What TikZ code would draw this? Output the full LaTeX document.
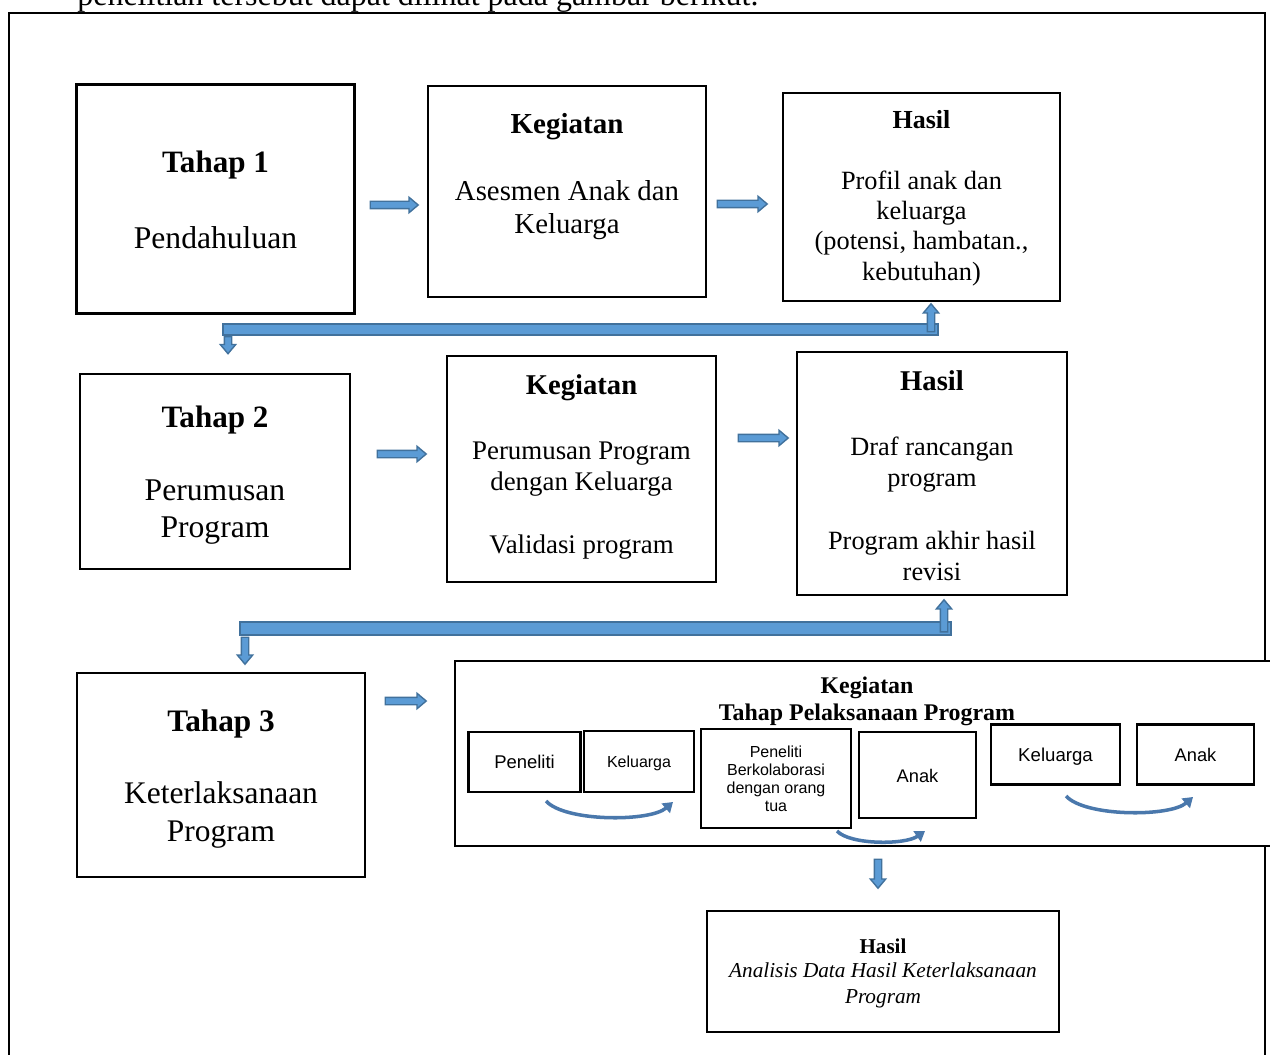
\documentclass[tikz,border=0pt]{standalone}
\usepackage{fontspec}
\setmainfont{Liberation Serif}
\setsansfont{Liberation Sans}
\usetikzlibrary{shapes.arrows,arrows.meta}
\newdimen\px \px=0.02cm
\definecolor{arrfill}{HTML}{5B9BD5}
\definecolor{arrline}{HTML}{41719C}
\definecolor{curvc}{HTML}{4A78AC}
\newcommand{\fs}[2]{\fontsize{#1}{#2}\selectfont}
\begin{document}
\begin{tikzpicture}[x=0.02cm,y=-0.02cm,
  box/.style={draw, line width=1.3pt, rectangle, inner sep=0pt, outer sep=0pt},
  sbox/.style={draw, line width=1.2pt, rectangle, inner sep=0pt, outer sep=0pt},
  txt/.style={inner sep=0pt, outer sep=0pt, align=center, anchor=base},
  blkarrow/.style={single arrow, fill=arrfill, draw=arrline, line width=0.8pt,
    inner sep=3\px, single arrow head extend=4\px, single arrow tip angle=80,
    minimum height=#1, outer sep=0pt},
  barst/.style={fill=arrfill, draw=arrline, line width=0.8pt, rectangle, inner sep=0pt, outer sep=0pt},
  curv/.style={draw=curvc, line width=2pt, -{Triangle[length=5.5pt,width=7pt]}},
  frame/.style={line width=1.4pt}]
\useasboundingbox (0,0) rectangle (1270,1054);

% cut-off line of text above the frame
\node[inner sep=0pt, anchor=base west, font=\fs{18.2}{21}] (toptext) at (77,6) {penelitian tersebut dapat dilihat pada gambar berikut.};

% outer frame
\draw[frame] (9,1080) -- (9,13) -- (1265,13) -- (1265,1080);

% ---------- row 1 ----------
\node[box, minimum width=278\px, minimum height=229\px] (t1) at (215.5,199) {};
\node[txt, font=\fs{17.7}{20}\bfseries] (t1a) at (215.5,173) {Tahap 1};
\node[txt, font=\fs{18}{21}] (t1b) at (215.5,248) {Pendahuluan};

\node[box, minimum width=278\px, minimum height=211\px] (k1) at (567,191.5) {};
\node[txt, font=\fs{16.5}{19}\bfseries] (k1a) at (567,134) {Kegiatan};
\node[txt, font=\fs{16.4}{19.3}] (k1b) at (567,234) {Asesmen Anak dan\\Keluarga};

\node[box, minimum width=277\px, minimum height=208\px] (h1) at (921.5,197) {};
\node[txt, font=\fs{14.8}{17}\bfseries] (h1a) at (921.5,129) {Hasil};
\node[txt, font=\fs{15}{17.2}] (h1b) at (921.5,280) {Profil anak dan\\keluarga\\(potensi, hambatan.,\\kebutuhan)};

\node[blkarrow=48\px] (ar1) at (392,205) {};
\node[blkarrow=50\px] (ar2) at (740,204) {};

% connector row 1 -> row 2
\node[barst, minimum width=715\px, minimum height=11\px] (bar1) at (580.5,329.5) {};
\node[blkarrow=17\px, shape border rotate=270] (dn1) at (228,343) {};
\node[blkarrow=28\px, shape border rotate=90] (up1) at (931,320) {};

% ---------- row 2 ----------
\node[box, minimum width=270\px, minimum height=195\px] (t2) at (215,471.5) {};
\node[txt, font=\fs{17.7}{20}\bfseries] (t2a) at (215,427) {Tahap 2};
\node[txt, font=\fs{18}{21}] (t2b) at (215,537) {Perumusan\\Program};

\node[box, minimum width=269\px, minimum height=226\px] (k2) at (581.5,469) {};
\node[txt, font=\fs{16.3}{19}\bfseries] (k2a) at (581.5,394) {Kegiatan};
\node[txt, font=\fs{15.3}{17.6}] (k2b) at (581.5,553) {Perumusan Program\\dengan Keluarga\\[18.1pt]Validasi program};

\node[box, minimum width=270\px, minimum height=243\px] (h2) at (932,473.5) {};
\node[txt, font=\fs{16.3}{19}\bfseries] (h2a) at (932,390) {Hasil};
\node[txt, font=\fs{15}{17.6}] (h2b) at (932,580) {Draf rancangan\\program\\[18.1pt]Program akhir hasil\\revisi};

\node[blkarrow=49\px] (ar3) at (399.5,454) {};
\node[blkarrow=50\px] (ar4) at (761,438) {};

% connector row 2 -> row 3
\node[barst, minimum width=711\px, minimum height=13\px] (bar2) at (595.5,628.5) {};
\node[blkarrow=27\px, shape border rotate=270] (dn2) at (245,648.5) {};
\node[blkarrow=32\px, shape border rotate=90] (up2) at (944,618) {};

% ---------- row 3 ----------
\node[box, minimum width=288\px, minimum height=204\px] (t3) at (221,775) {};
\node[txt, font=\fs{17.8}{20}\bfseries] (t3a) at (221,731) {Tahap 3};
\node[txt, font=\fs{17.9}{21.5}] (t3b) at (221,841) {Keterlaksanaan\\Program};

\node[blkarrow=41\px] (ar5) at (403.5,701) {};

\node[box, fill=white, minimum width=845\px, minimum height=185\px] (k3) at (877.5,753.5) {};
\node[txt, font=\fs{13.6}{15.3}\bfseries] (k3a) at (867,720) {Kegiatan\\Tahap Pelaksanaan Program};

\node[sbox, minimum width=112\px, minimum height=60\px] (p1) at (524.5,762) {};
\node[txt, font=\sffamily\fs{10.5}{12}] (p1x) at (524.5,768) {Peneliti};
\node[sbox, minimum width=110\px, minimum height=61\px] (kl1) at (639,761.5) {};
\node[txt, font=\sffamily\fs{9.1}{11}] (kl1x) at (639,767) {Keluarga};
\node[sbox, minimum width=150\px, minimum height=99\px] (pb) at (776,778.5) {};
\node[txt, font=\sffamily\fs{9.1}{10.2}] (pbx) at (776,811) {Peneliti\\Berkolaborasi\\dengan orang\\tua};
\node[sbox, minimum width=117\px, minimum height=86\px] (a1) at (917.5,775) {};
\node[txt, font=\sffamily\fs{10.4}{12}] (a1x) at (917.5,782) {Anak};
\node[sbox, minimum width=129\px, minimum height=60\px] (kl2) at (1055.5,754.5) {};
\node[txt, font=\sffamily\fs{10.6}{12}] (kl2x) at (1055.5,761) {Keluarga};
\node[sbox, minimum width=117\px, minimum height=60\px] (a2) at (1195.5,754.5) {};
\node[txt, font=\sffamily\fs{10.4}{12}] (a2x) at (1195.5,761) {Anak};

% curved arrows
\coordinate (c1s) at (546,801);
\coordinate (c1e) at (673,802);
\draw[curv] (c1s) .. controls (565,822) and (650,822) .. (c1e);
\coordinate (c2s) at (837,831);
\coordinate (c2e) at (925,831);
\draw[curv] (c2s) .. controls (850,845) and (905,845) .. (c2e);
\coordinate (c3s) at (1066,796);
\coordinate (c3e) at (1193,797);
\draw[curv] (c3s) .. controls (1085,817) and (1170,817) .. (c3e);

% down to result
\node[blkarrow=29\px, shape border rotate=270] (dn3) at (878,871.5) {};

\node[box, minimum width=352\px, minimum height=121\px] (h3) at (883,971.5) {};
\node[txt, font=\fs{12}{14}\bfseries] (h3a) at (883,953) {Hasil};
\node[txt, font=\fs{12.1}{14.5}\itshape] (h3b) at (883,1003) {Analisis Data Hasil Keterlaksanaan\\Program};
\end{tikzpicture}
\end{document}
